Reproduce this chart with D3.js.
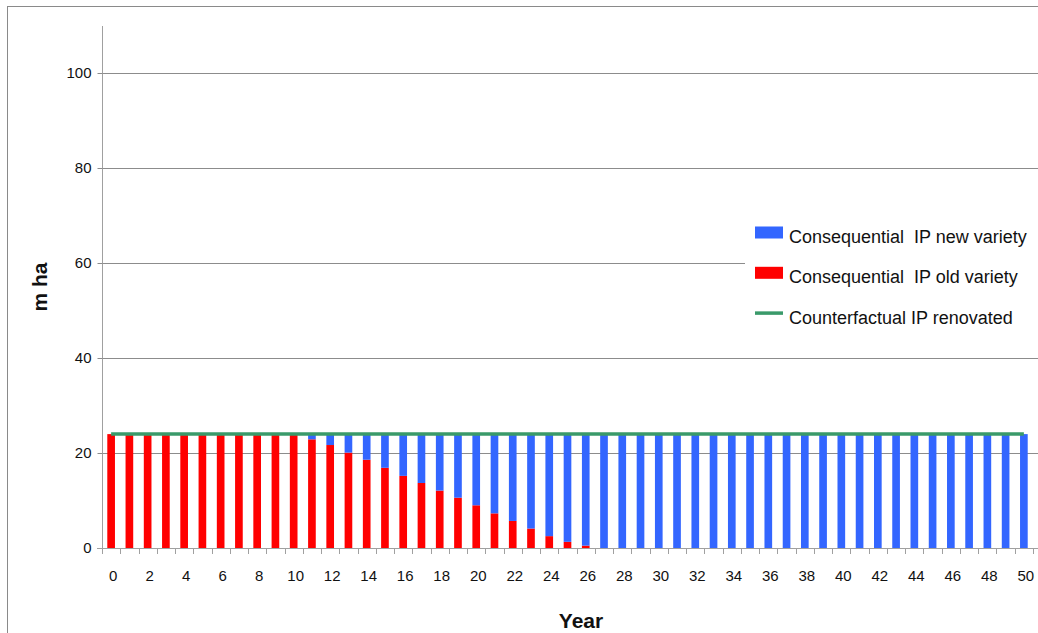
<!DOCTYPE html>
<html><head><meta charset="utf-8">
<script src="https://cdn.jsdelivr.net/npm/d3@7"></script>
<style>body{margin:0;background:#fff}svg{display:block;font-family:"Liberation Sans",Arial,sans-serif}</style>
</head><body>
<svg id="c" width="1038" height="633"></svg>
<script>
const years = d3.range(0, 51);
const oldVariety = [24,24,24,24,24,24,24,24,24,24,24,22.9,21.7,20.1,18.6,16.9,15.2,13.7,12.1,10.6,9.0,7.3,5.7,4.1,2.5,1.3,0.5,0,0,0,0,0,0,0,0,0,0,0,0,0,0,0,0,0,0,0,0,0,0,0,0];
const newVariety = [0,0,0,0,0,0,0,0,0,0,0,1.1,2.3,3.9,5.4,7.1,8.8,10.3,11.9,13.4,15.0,16.7,18.3,19.9,21.5,22.7,23.5,24,24,24,24,24,24,24,24,24,24,24,24,24,24,24,24,24,24,24,24,24,24,24,24];
const counterfactual = [24,24,24,24,24,24,24,24,24,24,24,24,24,24,24,24,24,24,24,24,24,24,24,24,24,24,24,24,24,24,24,24,24,24,24,24,24,24,24,24,24,24,24,24,24,24,24,24,24,24,24];
const yTicks = [0,20,40,60,80,100];
const xLabels = d3.range(0, 51, 2);
const legendItems = ["Consequential  IP new variety","Consequential  IP old variety","Counterfactual IP renovated"];
const colors = {newV:"#3366ff", oldV:"#ff0000", cf:"#3a9a6a"};

(function(){
const svg = d3.select("#c");
const pLeft = 102, pRight = 1033, pTop = 26, pBottom = 548;

// frame
svg.append("line").attr("x1",7.5).attr("x2",7.5).attr("y1",6).attr("y2",633).attr("stroke","#8a8a8a");
svg.append("line").attr("x1",7).attr("x2",1038).attr("y1",6.5).attr("y2",6.5).attr("stroke","#8a8a8a");

const x = d3.scaleBand().domain(years).range([pLeft, pRight]).paddingInner(0.58).paddingOuter(0.29);
const y = d3.scaleLinear().domain([0, 110]).range([pBottom, pTop]);

// gridlines
svg.append("g").selectAll("line").data(yTicks.filter(d=>d>0)).join("line")
  .attr("x1", pLeft).attr("x2", 1038)
  .attr("y1", d=>Math.round(y(d))+0.5).attr("y2", d=>Math.round(y(d))+0.5)
  .attr("stroke","#8c8c8c");

// y axis
const ya = svg.append("g").attr("transform",`translate(${pLeft+0.5},0)`)
  .call(d3.axisLeft(y).tickValues(yTicks).tickSize(5).tickPadding(6).tickFormat(d3.format("d")));
ya.select(".domain").attr("stroke","#a0a0a0").attr("d",`M-5,${pBottom+0.5}H0V${pTop}`);
ya.selectAll(".tick line").attr("stroke","#8c8c8c");
ya.selectAll(".tick").attr("transform", d=>`translate(0,${Math.round(y(d))+0.5})`);
ya.selectAll("text").attr("font-size",15).attr("fill","#111").attr("font-family","Liberation Sans, Arial");

// stacked bars
const stackData = years.map((yr,i)=>({year:yr, oldV:oldVariety[i], newV:newVariety[i]}));
const series = d3.stack().keys(["oldV","newV"])(stackData);
svg.append("g").selectAll("g").data(series).join("g")
  .attr("fill", s=>colors[s.key])
  .selectAll("rect").data(s=>s).join("rect")
  .attr("x", d=>x(d.data.year)).attr("width", x.bandwidth())
  .attr("y", d=>y(d[1])).attr("height", d=>Math.max(0, y(d[0])-y(d[1])));

// x axis
const xa = svg.append("g").attr("transform",`translate(0,${pBottom+0.5})`)
  .call(d3.axisBottom(x).tickValues(xLabels).tickSize(0).tickPadding(22));
xa.select(".domain").attr("stroke","#a0a0a0").attr("d",`M${pLeft-5},0H1038`);
xa.selectAll("text").attr("font-size",15).attr("fill","#111").attr("dx",2).attr("font-family","Liberation Sans, Arial");
// boundary ticks
const bounds = years.map(d=>x(d)+x.bandwidth()/2-x.step()/2).concat([x(50)+x.bandwidth()/2+x.step()/2]);
svg.append("g").selectAll("line").data(bounds).join("line")
  .attr("x1",d=>Math.round(d)+0.5).attr("x2",d=>Math.round(d)+0.5)
  .attr("y1",pBottom).attr("y2",pBottom+6).attr("stroke","#a0a0a0");

// counterfactual line
svg.append("path").datum(counterfactual)
  .attr("fill","none").attr("stroke",colors.cf).attr("stroke-width",3.5)
  .attr("d", d3.line().x((d,i)=>x(years[i])+x.bandwidth()/2).y(d=>y(d)));

// axis titles
svg.append("text").attr("x",581).attr("y",628).attr("text-anchor","middle")
  .attr("font-weight","bold").attr("font-size",21).attr("fill","#111").text("Year");
svg.append("text").attr("transform","translate(47,287) rotate(-90)").attr("text-anchor","middle")
  .attr("font-weight","bold").attr("font-size",21).attr("fill","#111").text("m ha");

// legend
const lg = svg.append("g");
lg.append("rect").attr("x",745).attr("y",214).attr("width",293).attr("height",122).attr("fill","#fff");
const keys = ["newV","oldV","cf"];
legendItems.forEach((t,i)=>{
  const cy = 232.5 + i*40.3;
  if (keys[i] === "cf") {
    lg.append("line").attr("x1",755).attr("x2",783).attr("y1",cy).attr("y2",cy)
      .attr("stroke",colors.cf).attr("stroke-width",3.5);
  } else {
    lg.append("rect").attr("x",755).attr("y",cy-6).attr("width",28).attr("height",12).attr("fill",colors[keys[i]]);
  }
  lg.append("text").attr("x",789).attr("y",cy+10.5).attr("font-size",18).attr("fill","#111")
    .attr("xml:space","preserve").style("white-space","pre").text(t);
});
})();
</script>
</body></html>
